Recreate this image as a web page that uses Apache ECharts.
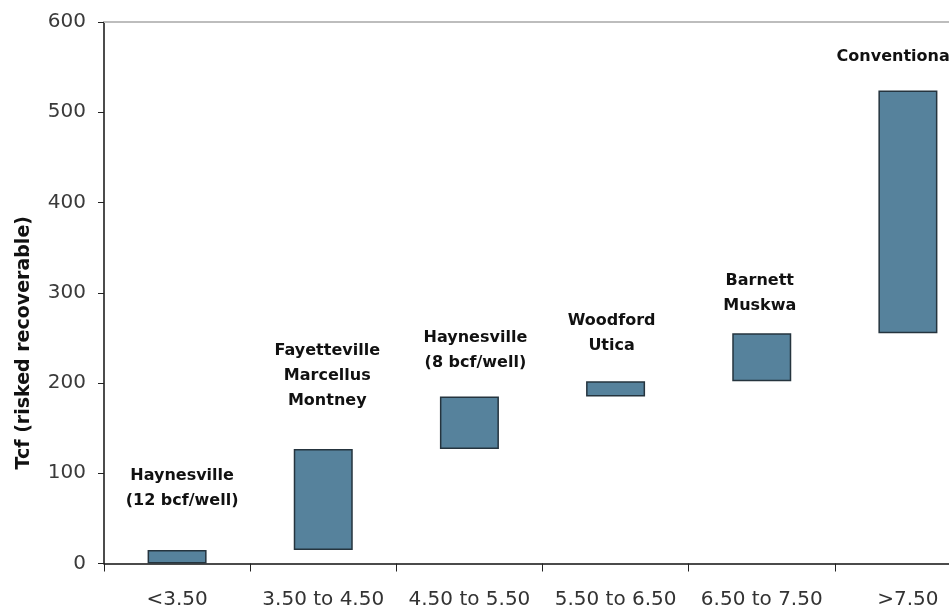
<!DOCTYPE html>
<html><head><meta charset="utf-8">
<script src="https://cdn.jsdelivr.net/npm/echarts@6/dist/echarts.min.js"></script>
<style>html,body{margin:0;padding:0;background:#fff;}#c{width:949px;height:610px;}</style>
</head><body><div id="c"></div>
<script>
const categories = ['<3.50', '3.50 to 4.50', '4.50 to 5.50', '5.50 to 6.50', '6.50 to 7.50', '>7.50'];
const lowValues  = [0, 15, 127, 185, 202, 255];
const highValues = [15, 127, 185, 202, 255, 524];
const barLabels  = ['Haynesville\n(12 bcf/well)', 'Fayetteville\nMarcellus\nMontney', 'Haynesville\n(8 bcf/well)', 'Woodford\nUtica', 'Barnett\nMuskwa', 'Conventional'];
const yTicks = [0, 100, 200, 300, 400, 500, 600];

const labelDist = [37, 36, 21, 23, 15, 21];
const labelDx = [5, 4, 6, -4, -2, -12];

const chart = echarts.init(document.getElementById('c'), null, {renderer: 'canvas'});
chart.setOption({
  animation: false,
  grid: {left: 104, top: 22, right: -32, bottom: 46.5, containLabel: false, outerBoundsMode: 'none'},
  xAxis: [{
    type: 'category', data: categories, position: 'bottom',
    axisLine: {lineStyle: {color: '#111', width: 1.5}},
    axisTick: {show: true, length: 8, lineStyle: {color: '#222', width: 1}},
    axisLabel: {margin: 26, fontFamily: 'DejaVu Sans', fontSize: 20, color: '#333', interval: 0}
  }, {
    type: 'category', data: categories, position: 'top',
    axisLine: {lineStyle: {color: '#bdbdbd', width: 2}},
    axisTick: {show: false}, axisLabel: {show: false}
  }],
  yAxis: {
    type: 'value', min: yTicks[0], max: yTicks[yTicks.length - 1], interval: 100,
    name: 'Tcf (risked recoverable)', nameLocation: 'middle', nameGap: 70,
    nameTextStyle: {fontFamily: 'DejaVu Sans', fontWeight: 'bold', fontSize: 19, color: '#111', padding: [0, 100, 0, 0]},
    axisLine: {show: true, lineStyle: {color: '#111', width: 1.5}},
    axisTick: {show: true, length: 6, lineStyle: {color: '#222'}},
    axisLabel: {margin: 18, fontFamily: 'DejaVu Sans', fontSize: 20, color: '#3a3a3a'},
    splitLine: {show: false}
  },
  series: [{
    type: 'bar', stack: 'r', barWidth: 59, silent: true,
    itemStyle: {color: 'transparent'},
    data: lowValues
  }, {
    type: 'bar', stack: 'r', barWidth: 59,
    itemStyle: {color: '#56829c', borderColor: '#25343e', borderWidth: 1.5},
    label: {show: true, position: 'top', fontFamily: 'DejaVu Sans', fontWeight: 'bold', fontSize: 16, lineHeight: 25, color: '#111', align: 'center'},
    data: highValues.map((h, i) => ({
      value: h - lowValues[i],
      label: {formatter: barLabels[i], distance: labelDist[i], offset: [labelDx[i], 0]}
    }))
  }]
});
</script></body></html>
